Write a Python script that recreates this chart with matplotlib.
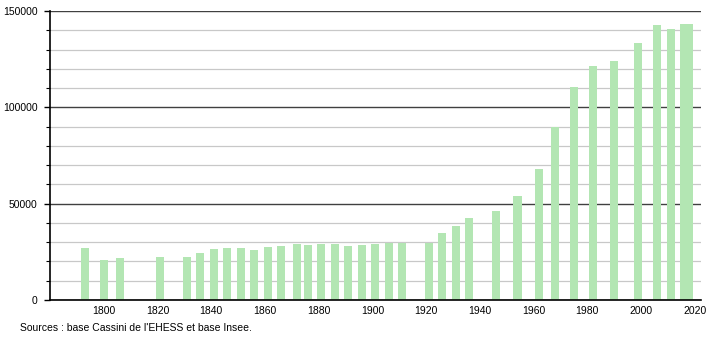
import numpy as np
import matplotlib
matplotlib.use('Agg')
import matplotlib.pyplot as plt
from matplotlib.ticker import MultipleLocator

years = [1793, 1800, 1806, 1821, 1831, 1836, 1841, 1846, 1851, 1856,
         1861, 1866, 1872, 1876, 1881, 1886, 1891, 1896, 1901, 1906,
         1911, 1921, 1926, 1931, 1936, 1946, 1954, 1962, 1968, 1975,
         1982, 1990, 1999, 2006, 2011, 2016, 2018]
pop = [27150, 20900, 21950, 22470, 22470, 24550, 26630, 27150, 27150, 26100,
       27500, 28030, 29230, 28550, 29060, 29060, 28030, 28550, 29060, 29750,
       29750, 29750, 34940, 38400, 42560, 46190, 53980, 67990, 89790, 110550,
       121450, 124050, 133380, 142700, 140650, 143240, 143240]
xticks = [1800, 1820, 1840, 1860, 1880, 1900, 1920, 1940, 1960, 1980, 2000, 2020]
source = "Sources : base Cassini de l'EHESS et base Insee."

plt.rcParams['font.family'] = ['Liberation Sans', 'DejaVu Sans']
fig = plt.figure(figsize=(7.1, 3.4), dpi=100)
ax = fig.add_axes([50/710, 40/340, 651/710, 289/340])

ax.bar(years, pop, width=3, color='#b3e6b3', zorder=2)

ax.set_xlim(1780, 2022.3)
ax.set_ylim(0, 150000)
ax.set_xticks(xticks)
ax.yaxis.set_major_locator(MultipleLocator(50000))
ax.yaxis.set_minor_locator(MultipleLocator(10000))
ax.grid(axis='y', which='minor', color='#c8c8c8', lw=0.9, zorder=0)
ax.grid(axis='y', which='major', color='#404040', lw=1.0, zorder=1)
ax.tick_params(axis='x', length=0, labelsize=7.5, pad=4)
ax.tick_params(axis='y', which='major', length=4, width=1, labelsize=7.5, pad=5)
ax.tick_params(axis='y', which='minor', length=3, width=0.8)

for s in ['top', 'right']:
    ax.spines[s].set_visible(False)
ax.spines['left'].set_linewidth(1.2)
ax.spines['bottom'].set_linewidth(1.2)
ax.spines['left'].set_zorder(3)
ax.spines['bottom'].set_zorder(3)

fig.text(20/710, 1 - 328/340, source, fontsize=7.5, va='center', ha='left')

fig.savefig('out.png', dpi=100)
